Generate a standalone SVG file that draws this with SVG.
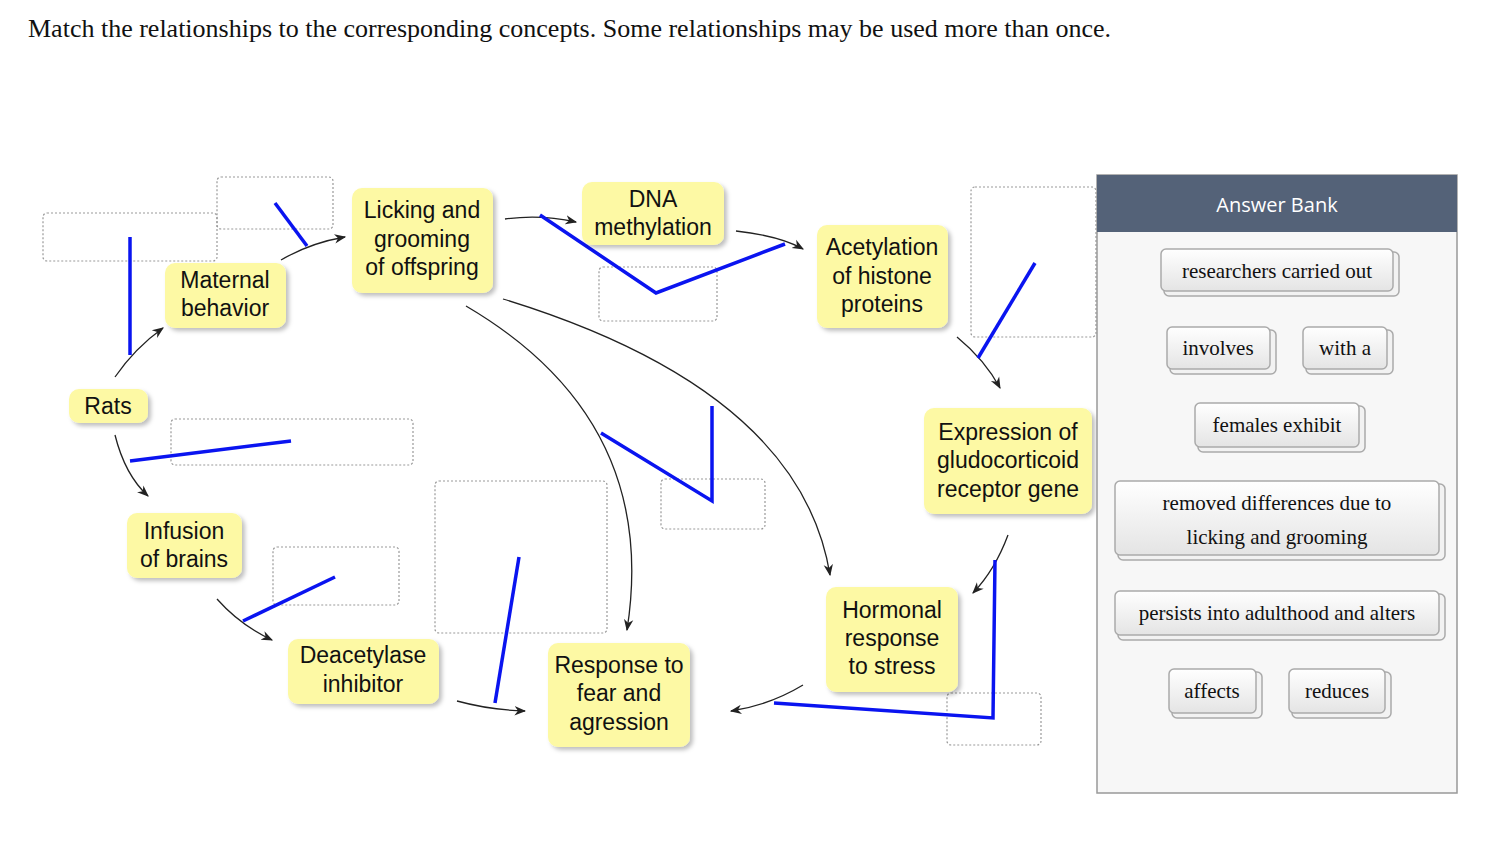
<svg xmlns="http://www.w3.org/2000/svg" width="1494" height="854" viewBox="0 0 1494 854">
<style>
.n rect{fill:#fdf9a4;stroke:none;filter:url(#sh)}
.n text,.lbl{font-family:"Liberation Sans",Arial,sans-serif;font-size:23px;fill:#111;text-anchor:middle}
.d{fill:none;stroke:#999;stroke-width:1.2;stroke-dasharray:2 2}
.b{fill:none;stroke:#0a14f0;stroke-width:3.5}
.c{fill:none;stroke:#222;stroke-width:1.3;marker-end:url(#ah)}
.chip rect.s{fill:#f2f2f2;stroke:#aaa;stroke-width:1.5}
.chip rect.f{fill:url(#cg);stroke:#aaa;stroke-width:1.5}
.chip text{font-family:"Liberation Serif","Times New Roman",serif;font-size:21px;fill:#111;text-anchor:middle}
</style>
<defs>
<filter id="sh" x="-20%" y="-20%" width="140%" height="140%"><feDropShadow dx="3" dy="3" stdDeviation="2" flood-color="#000" flood-opacity="0.25"/></filter>
<marker id="ah" viewBox="0 0 10 10" refX="9" refY="5" markerWidth="9" markerHeight="9" orient="auto"><path d="M0,1 L10,5 L0,9 L3,5 Z" fill="#222"/></marker>
<linearGradient id="cg" x1="0" y1="0" x2="0" y2="1"><stop offset="0" stop-color="#ffffff"/><stop offset="1" stop-color="#e4e4e4"/></linearGradient>
</defs>
<rect width="1494" height="854" fill="#fff"/>
<text x="28" y="37" font-family="Liberation Serif,'Times New Roman',serif" font-size="26" fill="#111">Match the relationships to the corresponding concepts. Some relationships may be used more than once.</text>

<g id="drops">
<rect class="d" x="43" y="213" width="174" height="48" rx="4"/>
<rect class="d" x="217" y="177" width="116" height="52" rx="4"/>
<rect class="d" x="599" y="267" width="118" height="54" rx="4"/>
<rect class="d" x="971" y="187" width="125" height="150" rx="4"/>
<rect class="d" x="171" y="419" width="242" height="46" rx="4"/>
<rect class="d" x="273" y="547" width="126" height="58" rx="4"/>
<rect class="d" x="435" y="481" width="172" height="152" rx="4"/>
<rect class="d" x="661" y="479" width="104" height="50" rx="4"/>
<rect class="d" x="947" y="693" width="94" height="52" rx="4"/>
</g>

<g id="connectors">
<path class="c" d="M115,377 Q135,348 163,328"/>
<path class="c" d="M281,260 Q310,243 345,237"/>
<path class="c" d="M505,219 Q540,214 576,222"/>
<path class="c" d="M736,231 Q780,236 803,249"/>
<path class="c" d="M957,337 Q985,360 1000,388"/>
<path class="c" d="M1008,535 Q995,570 973,593"/>
<path class="c" d="M803,685 Q770,705 731,711"/>
<path class="c" d="M457,701 Q490,710 525,711"/>
<path class="c" d="M115,435 Q125,475 148,496"/>
<path class="c" d="M217,599 Q240,625 272,640"/>
<path class="c" d="M466,306 Q660,420 627,630"/>
<path class="c" d="M503,299 Q800,390 830,575"/>
</g>

<g id="blue">
<path class="b" d="M130,237 L130,355"/>
<path class="b" d="M275,203 L307,246"/>
<path class="b" d="M540,215 L656,293 L785,244"/>
<path class="b" d="M1035,263 L978,358"/>
<path class="b" d="M130,461 L291,441"/>
<path class="b" d="M601,433 L712,501 L712,406"/>
<path class="b" d="M243,621 L335,577"/>
<path class="b" d="M519,557 L495,703"/>
<path class="b" d="M995,560 L993,718 L774,703"/>
</g>

<g id="rats" class="n"><rect x="69" y="389" width="79" height="34" rx="10"/><text x="108" y="414">Rats</text></g>
<g id="maternal" class="n"><rect x="165" y="263" width="121" height="65" rx="10"/><text x="225" y="288">Maternal</text><text x="225" y="316">behavior</text></g>
<g id="licking" class="n"><rect x="352" y="188" width="141" height="105" rx="10"/><text x="422" y="218">Licking and</text><text x="422" y="247">grooming</text><text x="422" y="275">of offspring</text></g>
<g id="dna" class="n"><rect x="582" y="182" width="142" height="63" rx="10"/><text x="653" y="207">DNA</text><text x="653" y="235">methylation</text></g>
<g id="acetylation" class="n"><rect x="817" y="225" width="131" height="103" rx="10"/><text x="882" y="255">Acetylation</text><text x="882" y="284">of histone</text><text x="882" y="312">proteins</text></g>
<g id="expression" class="n"><rect x="924" y="408" width="168" height="106" rx="10"/><text x="1008" y="440">Expression of</text><text x="1008" y="468">gludocorticoid</text><text x="1008" y="497">receptor gene</text></g>
<g id="hormonal" class="n"><rect x="826" y="587" width="132" height="105" rx="10"/><text x="892" y="618">Hormonal</text><text x="892" y="646">response</text><text x="892" y="674">to stress</text></g>
<g id="response" class="n"><rect x="548" y="643" width="142" height="104" rx="10"/><text x="619" y="673">Response to</text><text x="619" y="701">fear and</text><text x="619" y="730">agression</text></g>
<g id="deacetylase" class="n"><rect x="288" y="639" width="151" height="65" rx="10"/><text x="363" y="663">Deacetylase</text><text x="363" y="692">inhibitor</text></g>
<g id="infusion" class="n"><rect x="127" y="513" width="115" height="65" rx="10"/><text x="184" y="539">Infusion</text><text x="184" y="567">of brains</text></g>

<g id="answerbank">
<rect x="1097" y="175" width="360" height="618" fill="#f7f7f7" stroke="#999" stroke-width="1.5"/>
<rect x="1097" y="175" width="360" height="57" fill="#546278"/>
<text x="1277" y="212" font-family="'Open Sans','Noto Sans',sans-serif" font-size="20" fill="#fff" text-anchor="middle">Answer Bank</text>
<g class="chip"><rect class="s" x="1164" y="252" width="235" height="44" rx="5"/><rect class="f" x="1161" y="249" width="232" height="42" rx="5"/><text x="1277" y="278">researchers carried out</text></g>
<g class="chip"><rect class="s" x="1170" y="330" width="106" height="44" rx="5"/><rect class="f" x="1167" y="327" width="103" height="42" rx="5"/><text x="1218" y="355">involves</text></g>
<g class="chip"><rect class="s" x="1306" y="330" width="87" height="44" rx="5"/><rect class="f" x="1303" y="327" width="84" height="42" rx="5"/><text x="1345" y="355">with a</text></g>
<g class="chip"><rect class="s" x="1198" y="406" width="167" height="46" rx="5"/><rect class="f" x="1195" y="403" width="164" height="44" rx="5"/><text x="1277" y="432">females exhibit</text></g>
<g class="chip"><rect class="s" x="1118" y="484" width="327" height="76" rx="5"/><rect class="f" x="1115" y="481" width="324" height="74" rx="5"/><text x="1277" y="510">removed differences due to</text><text x="1277" y="544">licking and grooming</text></g>
<g class="chip"><rect class="s" x="1118" y="594" width="327" height="46" rx="5"/><rect class="f" x="1115" y="591" width="324" height="44" rx="5"/><text x="1277" y="620">persists into adulthood and alters</text></g>
<g class="chip"><rect class="s" x="1172" y="672" width="90" height="46" rx="5"/><rect class="f" x="1169" y="669" width="87" height="44" rx="5"/><text x="1212" y="698">affects</text></g>
<g class="chip"><rect class="s" x="1292" y="672" width="99" height="46" rx="5"/><rect class="f" x="1289" y="669" width="96" height="44" rx="5"/><text x="1337" y="698">reduces</text></g>
</g>
</svg>
